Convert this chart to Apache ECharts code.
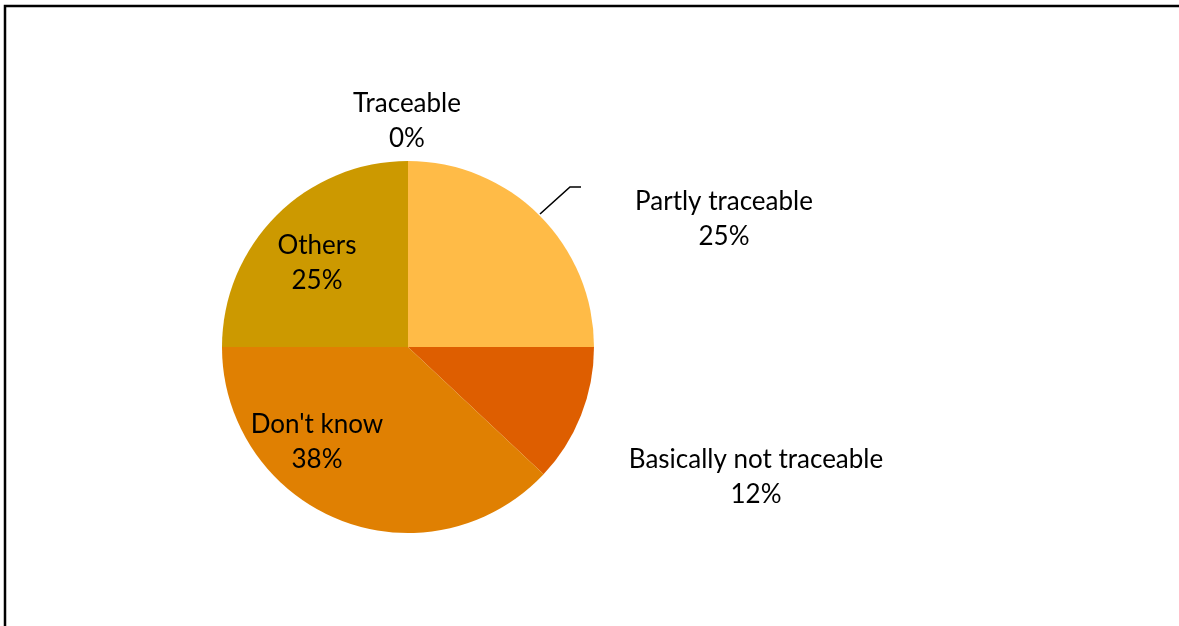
<!DOCTYPE html>
<html>
<head>
<meta charset="utf-8">
<script src="https://cdn.jsdelivr.net/npm/echarts@6/dist/echarts.min.js"></script>
<style>
  html, body { margin: 0; padding: 0; background: #fff; }
  #chart { width: 1179px; height: 626px; }
</style>
</head>
<body>
<div id="chart"></div>
<script>
// Traceability of sources — share of answers
const categories = ['Traceable', 'Partly traceable', 'Basically not traceable', "Don't know", 'Others'];
const shares = [0, 25, 12, 38, 25];
const colors = ['#4F81BD', '#FFBB47', '#DE5E00', '#E08002', '#CC9900'];

// label block centres (canvas pixels), in category order, and the leader line for the outside label
const labelSpots = [
  [407, 121],
  [724, 219],
  [756, 477],
  [317, 442],
  [317, 263]
];
const leader = [[540, 214], [570, 187], [581, 187]];

const chart = echarts.init(document.getElementById('chart'), null, { renderer: 'canvas' });

chart.setOption({
  backgroundColor: '#ffffff',
  animation: false,
  graphic: [{
    type: 'rect',
    shape: { x: 5, y: 6, width: 1200, height: 700 },
    style: { fill: 'none', stroke: '#000', lineWidth: 2.5 },
    silent: true
  }],
  series: [{
    type: 'pie',
    center: [408, 347],
    radius: 186,
    startAngle: 90,
    clockwise: true,
    percentPrecision: 0,
    stillShowZeroSum: true,
    itemStyle: { borderWidth: 0 },
    label: {
      show: true,
      formatter: '{b}\n{d}%',
      fontFamily: 'Lato',
      fontSize: 26,
      lineHeight: 35,
      color: '#000',
      align: 'center'
    },
    labelLine: { show: false },
    emphasis: { disabled: true },
    labelLayout: function (params) {
      const p = labelSpots[params.dataIndex];
      const out = { x: p[0], y: p[1], align: 'center', verticalAlign: 'middle' };
      if (params.dataIndex === 1) out.labelLinePoints = leader;
      return out;
    },
    data: categories.map(function (name, i) {
      const item = { name: name, value: shares[i], itemStyle: { color: colors[i] } };
      if (i === 1) {
        item.labelLine = { show: true, lineStyle: { color: '#000', width: 1.6 } };
      }
      return item;
    })
  }]
});
</script>
</body>
</html>
